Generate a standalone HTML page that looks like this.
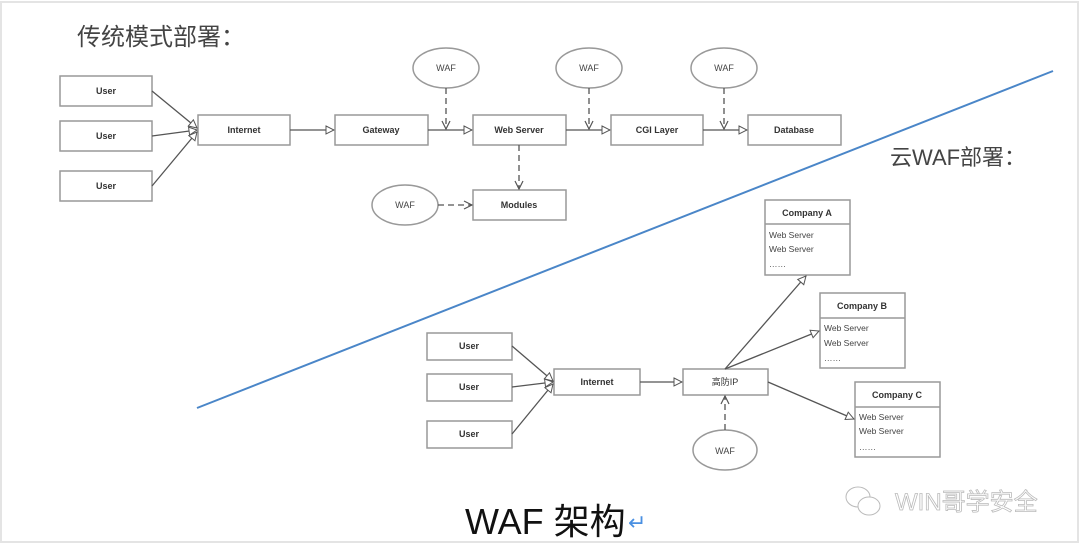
<!DOCTYPE html>
<html><head><meta charset="utf-8"><style>
html,body{margin:0;padding:0;background:#fff;}
svg{display:block;font-family:"Liberation Sans","Noto Sans CJK SC",sans-serif;}
</style></head><body>
<svg width="1080" height="548" viewBox="0 0 1080 548">
<defs>
<marker id="t" markerWidth="10" markerHeight="10" refX="9" refY="5" orient="auto" markerUnits="userSpaceOnUse"><path d="M1,1 L9,5 L1,9 Z" fill="#fff" stroke="#555" stroke-width="1"/></marker>
<marker id="o" markerWidth="10" markerHeight="10" refX="9" refY="5" orient="auto" markerUnits="userSpaceOnUse"><path d="M1,1 L9,5 L1,9" fill="none" stroke="#555" stroke-width="1.2"/></marker>
</defs>
<rect x="1" y="2" width="1077" height="540" fill="#fff" stroke="#e4e4e4" stroke-width="2"/>
<text x="77" y="45" font-size="24" fill="#444">传统模式部署：</text>
<text x="890" y="165" font-size="22" fill="#444">云WAF部署：</text>
<line x1="197" y1="408" x2="1053" y2="71" stroke="#4a86c8" stroke-width="2"/>
<g fill="#fff" stroke="#999" stroke-width="1.5">
<rect x="60" y="76" width="92" height="30"/><rect x="60" y="121" width="92" height="30"/><rect x="60" y="171" width="92" height="30"/>
<rect x="198" y="115" width="92" height="30"/><rect x="335" y="115" width="93" height="30"/><rect x="473" y="115" width="93" height="30"/>
<rect x="611" y="115" width="92" height="30"/><rect x="748" y="115" width="93" height="30"/><rect x="473" y="190" width="93" height="30"/>
<ellipse cx="446" cy="68" rx="33" ry="20"/><ellipse cx="589" cy="68" rx="33" ry="20"/><ellipse cx="724" cy="68" rx="33" ry="20"/><ellipse cx="405" cy="205" rx="33" ry="20"/>
<rect x="427" y="333" width="85" height="27"/><rect x="427" y="374" width="85" height="27"/><rect x="427" y="421" width="85" height="27"/>
<rect x="554" y="369" width="86" height="26"/><rect x="683" y="369" width="85" height="26"/>
<ellipse cx="725" cy="450" rx="32" ry="20"/>
<rect x="765" y="200" width="85" height="75"/><line x1="765" y1="224" x2="850" y2="224"/>
<rect x="820" y="293" width="85" height="75"/><line x1="820" y1="318" x2="905" y2="318"/>
<rect x="855" y="382" width="85" height="75"/><line x1="855" y1="407" x2="940" y2="407"/>
</g>
<g stroke="#555" stroke-width="1.3" fill="none">
<line x1="152" y1="91" x2="197" y2="128" marker-end="url(#t)"/>
<line x1="152" y1="136" x2="197" y2="130" marker-end="url(#t)"/>
<line x1="152" y1="186" x2="197" y2="132" marker-end="url(#t)"/>
<line x1="290" y1="130" x2="334" y2="130" marker-end="url(#t)"/>
<line x1="428" y1="130" x2="472" y2="130" marker-end="url(#t)"/>
<line x1="566" y1="130" x2="610" y2="130" marker-end="url(#t)"/>
<line x1="703" y1="130" x2="747" y2="130" marker-end="url(#t)"/>
<g stroke-dasharray="6,4">
<line x1="446" y1="88" x2="446" y2="129" marker-end="url(#o)"/>
<line x1="589" y1="88" x2="589" y2="129" marker-end="url(#o)"/>
<line x1="724" y1="88" x2="724" y2="129" marker-end="url(#o)"/>
<line x1="519" y1="145" x2="519" y2="189" marker-end="url(#o)"/>
<line x1="438" y1="205" x2="472" y2="205" marker-end="url(#o)"/>
<line x1="725" y1="430" x2="725" y2="396" marker-end="url(#o)"/>
</g>
<line x1="512" y1="346" x2="553" y2="381" marker-end="url(#t)"/>
<line x1="512" y1="387" x2="553" y2="382" marker-end="url(#t)"/>
<line x1="512" y1="434" x2="553" y2="384" marker-end="url(#t)"/>
<line x1="640" y1="382" x2="682" y2="382" marker-end="url(#t)"/>
<line x1="725" y1="369" x2="806" y2="276" marker-end="url(#t)"/>
<line x1="725" y1="369" x2="819" y2="331" marker-end="url(#t)"/>
<line x1="768" y1="382" x2="854" y2="419" marker-end="url(#t)"/>
</g>
<g font-size="9" font-weight="bold" fill="#333" text-anchor="middle">
<text x="106" y="94">User</text><text x="106" y="139">User</text><text x="106" y="189">User</text>
<text x="244" y="133">Internet</text><text x="381" y="133">Gateway</text><text x="519" y="133">Web Server</text>
<text x="657" y="133">CGI Layer</text><text x="794" y="133">Database</text><text x="519" y="208">Modules</text>
<text x="469" y="349">User</text><text x="469" y="390">User</text><text x="469" y="437">User</text>
<text x="597" y="385">Internet</text>
<text x="807" y="216">Company A</text><text x="862" y="309">Company B</text><text x="897" y="398">Company C</text>
</g>
<text x="725" y="385" font-size="9" fill="#333" text-anchor="middle">高防IP</text>
<g font-size="9" fill="#444" text-anchor="middle">
<text x="446" y="71">WAF</text><text x="589" y="71">WAF</text><text x="724" y="71">WAF</text><text x="405" y="208">WAF</text><text x="725" y="454">WAF</text>
</g>
<g font-size="8.5" fill="#444">
<text x="769" y="238">Web Server</text><text x="769" y="252">Web Server</text><text x="769" y="267">……</text>
<text x="824" y="331">Web Server</text><text x="824" y="346">Web Server</text><text x="824" y="361">……</text>
<text x="859" y="420">Web Server</text><text x="859" y="434">Web Server</text><text x="859" y="450">……</text>
</g>
<text x="465" y="534" font-size="36" fill="#111">WAF 架构</text>
<text x="628" y="530" font-size="22" fill="#4a90e2">↵</text>
<text x="895" y="510" font-size="24" fill="#fff" stroke="#bbb" stroke-width="0.8">WIN哥学安全</text>
<g fill="#fff" stroke="#bbb" stroke-width="1"><ellipse cx="858" cy="497" rx="12" ry="10"/><ellipse cx="869" cy="506" rx="11" ry="9"/></g>
</svg>
</body></html>
